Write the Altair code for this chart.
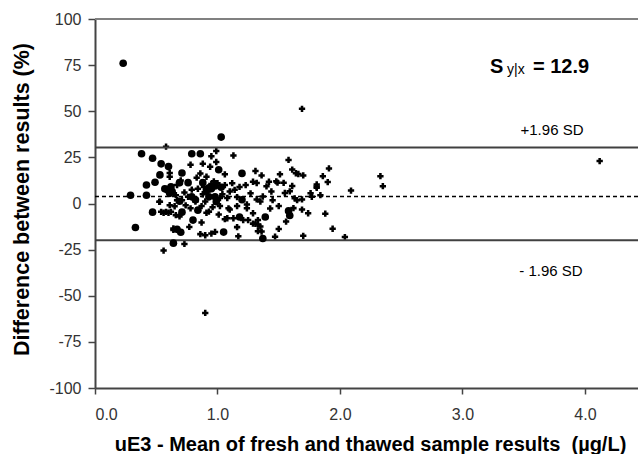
import altair as alt
import pandas as pd

# Filled circles series
circle_x = [0.23, 1.03, 0.38, 0.47, 0.54, 0.60, 0.53, 0.49, 0.42, 0.42, 0.29, 0.59, 0.61, 0.71,
            0.79, 0.86, 0.69, 0.76, 0.88, 0.79, 0.71, 0.47, 1.01, 1.20, 0.93, 0.95, 0.98, 1.03,
            0.98, 0.99, 0.84, 0.80, 1.20, 1.18, 1.39, 1.58, 1.59, 0.33, 0.64, 0.70, 0.67, 1.05,
            1.37, 0.63, 0.57, 0.93, 0.91, 0.69, 0.82, 0.62]
circle_y = [76, 36, 27, 24.5, 21.5, 20, 15.5, 11.5, 10, 4.5, 4.5, 7.5, 5.5, 16.5,
            27, 27, 11.3, 11.3, 11.3, 3.6, -4.7, -4.7, 18.3, 16.3, 8.5, 8, 9.5, 8.8,
            3.6, 1, -3.6, -9, 2, -7.3, -7.3, -4, -6.5, -13, -21.5, -15.6, -14, -15.5,
            -19, 6.5, 8, 3.6, 7, 1.2, 2, 9]

# Plus-sign series
cross_x = [1.69, 0.58, 0.99, 1.13, 0.95, 1.58, 0.78, 0.88, 0.99, 1.31, 1.36, 1.61, 1.64, 1.66,
           1.70, 1.51, 1.48, 1.54, 1.61, 1.59, 1.55, 1.42, 1.49, 1.81, 1.29, 1.23, 1.18, 1.14,
           1.32, 1.40, 0.91, 0.86, 0.83, 0.94, 1.06, 0.61, 0.67, 0.76, 0.71, 0.525, 0.54, 0.62,
           0.56, 0.60, 0.61, 0.66, 0.67, 0.87, 0.91, 1.02, 1.10, 1.16, 1.24, 1.32, 1.37, 1.45,
           1.43, 1.50, 1.29, 1.25, 1.13, 1.08, 1.01, 1.33, 1.31, 1.62, 1.69, 1.74, 1.77, 1.65,
           1.84, 4.12, 1.91, 1.86, 1.90, 1.81, 1.81, 1.76, 2.09, 2.33, 2.35, 1.69, 1.88, 1.94,
           2.04, 1.70, 1.50, 1.47, 1.63, 1.56, 0.56, 0.73, 0.64, 0.86, 0.90, 0.95, 0.98, 0.87,
           0.77, 1.16, 1.17, 1.33, 1.33, 0.90, 1.29, 1.21, 0.78, 0.93, 1.06, 1.09, 1.24, 1.35,
           1.36, 1.35, 0.90, 0.82, 1.10, 0.88, 0.92, 0.95, 0.97, 1.00, 1.04, 1.06, 1.08, 0.84,
           0.89, 1.02, 0.96, 1.12, 1.16, 0.73, 0.74, 0.70, 0.66, 0.53, 0.65, 0.58, 0.69, 0.64,
           0.61, 0.79, 1.27, 1.44]
cross_y = [51.3, 30.8, 28.4, 26, 25.6, 23.6, 21, 21.6, 22.5, 17.6, 15.2, 18.4, 16.4, 16,
           15.2, 15.8, 12, 11.2, 9.5, 6.6, 5.7, 11.8, 11.3, 9.2, 11.8, 10, 9, 7.4,
           11.1, 9.3, 14.5, 16.3, 14, 19.9, 15.8, 16.5, 10, 3.6, 1.8, 0.9, -4.5, -4.5,
           -5, -5, -0.9, -6.3, 1.8, -1.4, -5, -1.4, -3.3, -1.4, -0.5, 2.2, 3.8, 1.8,
           -2.7, -1.4, -5.3, -9, -8, -8, -6, -9, -11, -2.5, -3.3, -5.3, 3.6, 1.8,
           4.5, 23, 19, 14.8, 11.6, 10.3, 8.5, 5.6, 7, 14.8, 9.4, 2.2, -5.5, -13.7,
           -18.2, -17.5, -13.8, -18, 2.8, -9.8, -25.5, -21.9, -14.3, -16.6, -17.2, -16.3, -15.4, -10.3,
           -12.7, -12.8, -17.8, -11.4, -15, -59.3, -10.9, -9, -2.6, -4.4, -8.5, -2.6, -2.6, -12.5,
           -15.2, 1.1, 1.1, 1.1, 6.5, 5, 6.5, 10.5, 12, 11, 5, 10, 3, 8,
           9, 3, -2, 11, 3.5, 6, -1, 12.5, 4.5, 1, -1.5, -4.5, -7, -13.5,
           14.5, 7.5, 5.5, 6.5]

mean_diff = [3.8]
limits = [30.4, -19.9]
frame_top = [100]

XMAX = 4.433
xs = alt.Scale(domain=[0, XMAX], nice=False, zero=False)
ys = alt.Scale(domain=[-100, 100], nice=False, zero=False)

circles = pd.DataFrame({"x": circle_x, "y": circle_y})
crosses = pd.DataFrame({"x": cross_x, "y": cross_y})

FONT = "Liberation Sans"

xaxis = alt.Axis(values=[0, 1, 2, 3, 4], format=".1f", grid=False,
                 title="uE3 - Mean of fresh and thawed sample results \u00a0(\u00b5g/L)",
                 titleFont=FONT, titleFontSize=20, titleFontWeight="bold", titleColor="black",
                 titleX=275, titleY=62, titleBaseline="alphabetic", titleAnchor="start", titleAlign="center",
                 labelFont=FONT, labelFontSize=16, labelColor="#333333", labelPadding=12,
                 tickSize=6, tickColor="#444444", tickWidth=1.5,
                 domainColor="#444444", domainWidth=2)
yaxis = alt.Axis(values=[-100, -75, -50, -25, 0, 25, 50, 75, 100], grid=False,
                 labelExpr="datum.value < 0 ? '-' + abs(datum.value) : '' + datum.value",
                 title="Difference between results (%)",
                 titleFont=FONT, titleFontSize=21.5, titleFontWeight="bold", titleColor="black",
                 titleX=-73, titleY=180, titleAngle=-90, titleBaseline="middle", titleAlign="center",
                 labelFont=FONT, labelFontSize=16, labelColor="#333333", labelPadding=7,
                 tickSize=7, tickColor="#444444", tickWidth=1.5,
                 domainColor="#444444", domainWidth=2)

cross_layer = alt.Chart(crosses).mark_point(shape="cross", filled=True, color="black",
                                            size=40, opacity=1).encode(
    x=alt.X("x:Q", scale=xs, axis=xaxis),
    y=alt.Y("y:Q", scale=ys, axis=yaxis),
)
circle_layer = alt.Chart(circles).mark_circle(color="black", size=58, opacity=1).encode(
    x=alt.X("x:Q", scale=xs), y=alt.Y("y:Q", scale=ys))

top_rule = alt.Chart(pd.DataFrame({"y": frame_top})).mark_rule(color="#808080", strokeWidth=2).encode(
    y=alt.Y("y:Q", scale=ys))
sd_rules = alt.Chart(pd.DataFrame({"y": limits})).mark_rule(color="#404040", strokeWidth=2).encode(
    y=alt.Y("y:Q", scale=ys))
mean_rule = alt.Chart(pd.DataFrame({"y": mean_diff})).mark_rule(
    color="black", strokeWidth=1.5, strokeDash=[4, 3]).encode(y=alt.Y("y:Q", scale=ys))


def label(txt, px, py, size, weight="normal", align="left", baseline="alphabetic"):
    return alt.Chart(pd.DataFrame({"t": [txt]})).mark_text(
        font=FONT, fontSize=size, fontWeight=weight, align=align, baseline=baseline, color="black"
    ).encode(text="t:N", x=alt.value(px), y=alt.value(py))


texts = [
    label("S", 395, 54, 20, "bold"),
    label("y|x", 412, 55, 14),
    label("= 12.9", 438, 54, 20, "bold"),
    label("+1.96 SD", 457, 111, 15, align="center", baseline="middle"),
    label("- 1.96 SD", 456, 252, 15, align="center", baseline="middle"),
]

chart = alt.layer(cross_layer, top_rule, sd_rules, mean_rule, circle_layer, *texts).properties(
    width=543, height=369,
    autosize=alt.AutoSizeParams(type="none"),
    padding={"left": 95, "top": 19, "right": 0, "bottom": 66},
    background="white",
).configure_view(stroke=None)

chart.save("out.html", embed_options={"renderer": "svg", "actions": False})
